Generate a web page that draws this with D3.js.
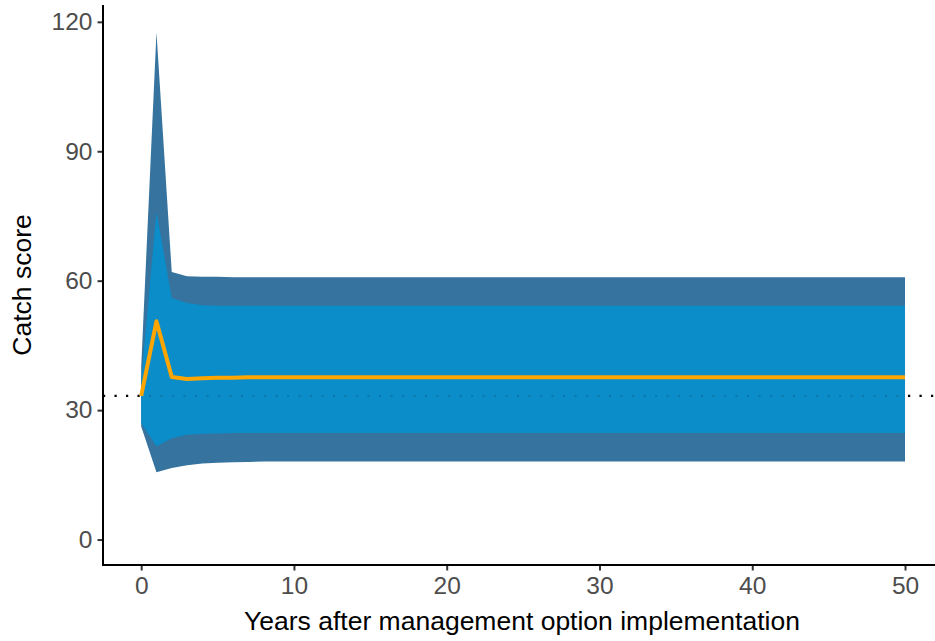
<!DOCTYPE html>
<html>
<head>
<meta charset="utf-8">
<script src="https://cdn.jsdelivr.net/npm/d3@7/dist/d3.min.js"></script>
<style>
  html, body { margin: 0; padding: 0; background: #ffffff; }
  svg { display: block; font-family: "Liberation Sans", Arial, sans-serif; }
</style>
</head>
<body>
<svg id="chart" width="935" height="641"></svg>
<script>
// ---- data ----
const years       = [0, 1, 2, 3, 4, 5, 6, 7, 8, 10, 15, 20, 30, 40, 50];
const outerLower  = [26.2, 15.6, 16.6, 17.2, 17.6, 17.8, 17.9, 18.0, 18.1, 18.1, 18.1, 18.1, 18.1, 18.1, 18.1];
const outerUpper  = [40.0, 117.6, 62.0, 61.0, 60.9, 60.9, 60.8, 60.8, 60.8, 60.8, 60.8, 60.8, 60.8, 60.8, 60.8];
const innerLower  = [27.0, 21.6, 23.5, 24.3, 24.5, 24.6, 24.7, 24.7, 24.7, 24.7, 24.7, 24.7, 24.7, 24.7, 24.7];
const innerUpper  = [37.0, 76.0, 56.0, 54.8, 54.3, 54.2, 54.2, 54.2, 54.2, 54.2, 54.2, 54.2, 54.2, 54.2, 54.2];
const median      = [33.3, 50.6, 37.7, 37.2, 37.4, 37.5, 37.5, 37.6, 37.6, 37.6, 37.6, 37.6, 37.6, 37.6, 37.6];
const reference   = 33.3;
const xTicks      = [0, 10, 20, 30, 40, 50];
const yTicks      = [0, 30, 60, 90, 120];
const xTitle      = "Years after management option implementation";
const yTitle      = "Catch score";

const rows = years.map((y, i) => ({
  x: y, ol: outerLower[i], ou: outerUpper[i], il: innerLower[i], iu: innerUpper[i], m: median[i]
}));

const svg = d3.select("#chart");
const panel = { left: 103, right: 943.2, top: 5, bottom: 565 };

const x = d3.scaleLinear().domain([-2.5, 52.5]).range([panel.left, panel.right]);
const y = d3.scaleLinear().domain([-5.9, 123.9]).range([panel.bottom, panel.top]);

const g = svg.append("g");

// reference dotted line (underneath ribbons)
g.append("line")
  .attr("x1", x(-2.5)).attr("x2", x(52.5))
  .attr("y1", y(reference)).attr("y2", y(reference))
  .attr("stroke", "#000").attr("stroke-width", 2.2)
  .attr("stroke-dasharray", "2.2 9.3");

const areaOuter = d3.area().x(d => x(d.x)).y0(d => y(d.ol)).y1(d => y(d.ou));
const areaInner = d3.area().x(d => x(d.x)).y0(d => y(d.il)).y1(d => y(d.iu));

g.append("path").datum(rows).attr("d", areaOuter).attr("fill", "#36739e");
g.append("path").datum(rows).attr("d", areaInner).attr("fill", "#0a8dc8");

// faint dots visible through the ribbons
g.append("line")
  .attr("x1", x(-2.5)).attr("x2", x(52.5))
  .attr("y1", y(reference)).attr("y2", y(reference))
  .attr("stroke", "#000").attr("stroke-opacity", 0.13).attr("stroke-width", 2.2)
  .attr("stroke-dasharray", "2.2 9.3");

g.append("path").datum(rows)
  .attr("d", d3.line().x(d => x(d.x)).y(d => y(d.m)))
  .attr("fill", "none").attr("stroke", "#ffa500").attr("stroke-width", 4)
  .attr("stroke-linejoin", "round");

// axes
const xAxis = d3.axisBottom(x).tickValues(xTicks).tickSize(5.5).tickPadding(6).tickFormat(d3.format("d"));
const yAxis = d3.axisLeft(y).tickValues(yTicks).tickSize(5.5).tickPadding(5).tickFormat(d3.format("d"));

const gx = svg.append("g").attr("transform", `translate(0,${panel.bottom})`).call(xAxis);
const gy = svg.append("g").attr("transform", `translate(${panel.left},0)`).call(yAxis);

[gx, gy].forEach(a => {
  a.select(".domain").remove();
  a.selectAll(".tick line").attr("stroke", "#333333").attr("stroke-width", 2);
  a.selectAll(".tick text").attr("fill", "#4d4d4d").attr("font-size", 24.5)
    .attr("font-family", "Liberation Sans, Arial, sans-serif");
});
gx.selectAll(".tick text").attr("dy", "0.71em");

// axis lines
svg.append("line").attr("x1", panel.left).attr("x2", 935)
  .attr("y1", panel.bottom).attr("y2", panel.bottom)
  .attr("stroke", "#000").attr("stroke-width", 2);
svg.append("line").attr("x1", panel.left).attr("x2", panel.left)
  .attr("y1", panel.top).attr("y2", panel.bottom + 1)
  .attr("stroke", "#000").attr("stroke-width", 2);

// titles
svg.append("text").attr("x", 522).attr("y", 630)
  .attr("text-anchor", "middle").attr("font-size", 26.5).attr("fill", "#000")
  .text(xTitle);
svg.append("text")
  .attr("transform", `translate(31,${285}) rotate(-90)`)
  .attr("text-anchor", "middle").attr("font-size", 26.5).attr("fill", "#000")
  .text(yTitle);
</script>
</body>
</html>
